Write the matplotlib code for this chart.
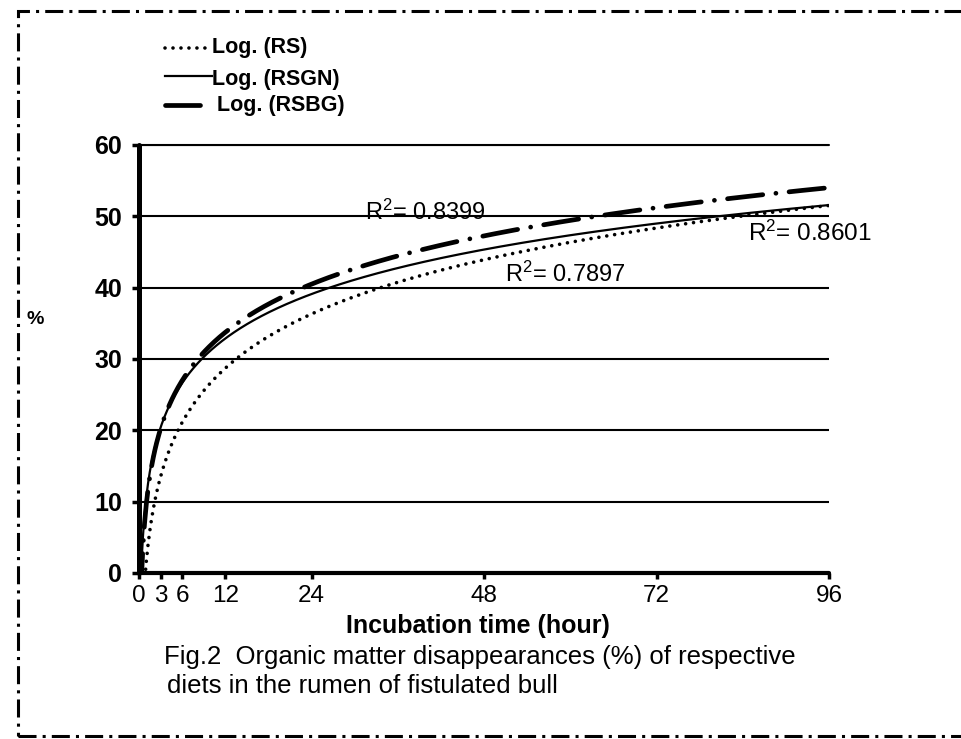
import numpy as np
import matplotlib
matplotlib.use("Agg")
import matplotlib.pyplot as plt
from matplotlib.lines import Line2D
from matplotlib.patches import Rectangle

plt.rcParams['font.family'] = ['Liberation Sans', 'DejaVu Sans']
plt.rcParams['mathtext.fontset'] = 'custom'
plt.rcParams['mathtext.rm'] = 'Liberation Sans'
plt.rcParams['mathtext.it'] = 'Liberation Sans:italic'
plt.rcParams['mathtext.bf'] = 'Liberation Sans:bold'

# Organic matter disappearance (%) read along each trend at the sampling hours
hours = [3, 6, 12, 24, 48, 72, 96]
rs = [13.5, 21.1, 28.7, 36.3, 43.9, 48.4, 51.5]
rsgn = [20.4, 26.6, 32.9, 39.1, 45.3, 49.0, 51.6]
rsbg = [20.2, 27.0, 33.7, 40.5, 47.3, 51.2, 54.0]

legend_labels = ['Log. (RS)', 'Log. (RSGN)', 'Log. (RSBG)']
r2_labels = ['0.8399', '0.7897', '0.8601']
x_ticks = [0, 3, 6, 12, 24, 48, 72, 96]
y_ticks = [0, 10, 20, 30, 40, 50, 60]

W, H = 961, 739
fig = plt.figure(figsize=(W / 100, H / 100), dpi=100)
fig.patch.set_facecolor('white')


def fx(px):
    return px / W


def fy(py):
    return 1 - py / H


ax = fig.add_axes([fx(139), fy(573), 690 / W, 428 / H])
ax.set_xlim(0, 96)
ax.set_ylim(0, 60)

# logarithmic trend lines fitted to each series
t = np.linspace(0.3, 96, 800)
styles = [
    dict(color='black', lw=2.6, linestyle=(0, (0.01, 2.2)), dash_capstyle='round'),
    dict(color='black', lw=1.6, linestyle='-'),
    dict(color='black', lw=3.4, linestyle=(0, (7.5, 2.8, 0.01, 2.8)), dash_capstyle='round'),
]
for vals, st in zip([rs, rsgn, rsbg], styles):
    slope, intercept = np.polyfit(np.log(hours), vals, 1)
    ax.plot(t, slope * np.log(t) + intercept, zorder=3, **st)

# axes styling
ax.set_xticks(x_ticks)
ax.set_yticks(y_ticks)
ax.yaxis.grid(True, color='black', lw=1.5)
ax.xaxis.grid(False)
ax.set_axisbelow(True)
ax.spines['right'].set_visible(False)
ax.spines['top'].set_linewidth(1.5)
ax.spines['left'].set_linewidth(3.6)
ax.spines['bottom'].set_linewidth(3.0)
for s in ax.spines.values():
    s.set_zorder(5)
    s.set_capstyle('round')
ax.tick_params(axis='y', direction='out', length=5, width=2.5, pad=7,
               labelsize=18)
ax.tick_params(axis='x', direction='out', length=4, width=2.5, pad=5,
               labelsize=17.5)
for lab in ax.get_yticklabels():
    lab.set_fontweight('bold')

ax.set_ylabel('%', rotation=0, fontsize=14, fontweight='bold')
ax.yaxis.set_label_coords((35 - 139) / 690, (573 - 328) / 428)
ax.set_xlabel('Incubation time (hour)', fontsize=18, fontweight='bold')
ax.xaxis.set_label_coords((478 - 139) / 690, (573 - 614) / 428)
ax.xaxis.label.set_va('top')

# R-squared annotations
r2_pos = [(31.4, 49.5, 17), (50.9, 40.8, 17), (84.7, 46.6, 17.5)]
for lab, (xp, yp, fs) in zip(r2_labels, r2_pos):
    ax.text(xp, yp, r'R$^{2}$= ' + lab, fontsize=fs, va='baseline',
            ha='left', zorder=6)

# legend entries
leg_rows = [
    (165, 210, 48, 48, 212, styles[0]),
    (165, 212, 76, 80, 212, styles[1]),
    (165, 200, 105, 105, 217, styles[2]),
]
for (x0, x1, ly, ty, tx, st), lab in zip(leg_rows, legend_labels):
    fig.add_artist(Line2D([fx(x0), fx(x1)], [fy(ly), fy(ly)],
                          transform=fig.transFigure, **st))
    fig.text(fx(tx), fy(ty), lab, fontsize=15.5, fontweight='bold',
             ha='left', va='center')

# figure caption
fig.text(fx(164), fy(657), 'Fig.2  Organic matter disappearances (%) of respective',
         fontsize=18.5, ha='left', va='center')
fig.text(fx(167), fy(686), 'diets in the rumen of fistulated bull',
         fontsize=18.5, ha='left', va='center')

# dash-dot frame around the figure
frame = Rectangle((fx(18), fy(736)), 1.2, (736 - 11) / H,
                  transform=fig.transFigure, fill=False, edgecolor='black',
                  lw=2.2, linestyle=(0, (5.9, 2.0, 1.0, 2.0)), clip_on=False)
fig.add_artist(frame)

fig.savefig('out.png', dpi=100, facecolor='white')
